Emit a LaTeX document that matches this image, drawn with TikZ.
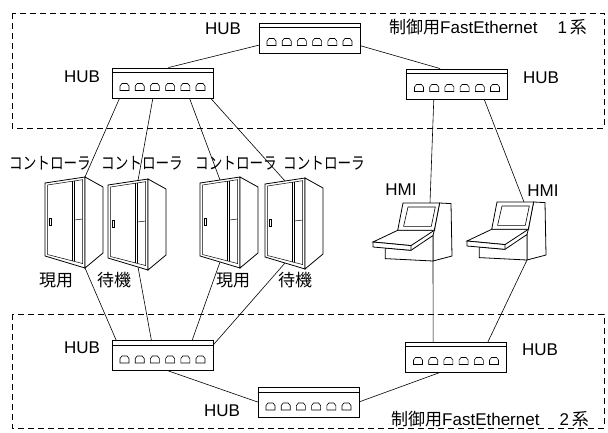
\documentclass[tikz,border=0pt]{standalone}
\usepackage{fontspec}
\setmainfont{Liberation Sans}
\newfontfamily\jp{Noto Sans CJK JP}
\newfontfamily\jpnarrow[FakeStretch=0.8]{Noto Sans CJK JP}
\usetikzlibrary{calc}

\pgfdeclarelayer{bg}
\pgfsetlayers{bg,main}

\tikzset{
  hub/.style={draw, fill=white, line width=0.9pt, minimum width=101pt, minimum height=30pt, inner sep=0pt},
  port/.style={line width=0.6pt, fill=white},
  cable/.style={line width=0.6pt},
  segment/.style={line width=0.8pt, dash pattern=on 6pt off 4pt},
  lbl/.style={inner sep=0pt, font=\fontsize{17}{20}\selectfont},
  % control cabinet, origin = top left corner of the front
  pics/cabinet/.style={code={
    \draw[line width=0.8pt, fill=white] (0,0) -- (40,-6) -- (40,85) -- (0,73) -- cycle;
    \draw[line width=0.8pt, fill=white] (40,-6) -- (58,4) -- (58,70) -- (40,85) -- cycle;
    \draw[line width=0.5pt] (2.5,2) -- (37.5,-3.3) -- (37.5,80.5) -- (2.5,71.5) -- cycle;
    \draw[line width=0.5pt] (27,-1.7) -- (27,77.8) (29.5,-2.1) -- (29.5,78.4);
    \draw[line width=0.5pt] (29.5,37) -- (37.5,36);
    \draw[line width=0.5pt] (4.5,35) rectangle (6.5,42);
    \coordinate (-tr) at (40,-6);
    \coordinate (-tc) at (20,-3);
    \coordinate (-ts) at (30,-4.5);
    \coordinate (-br) at (40,85);
    \coordinate (-bc) at (20,79);
    \coordinate (-bs) at (30,82);
  }},
  % operator console, origin = top left corner of the screen panel
  pics/hmi/.style={code={
    \draw[line width=0.8pt, fill=white] (36.6,0) -- (48,0.6) -- (49,53) -- (30,58) -- (30,32.5) -- (31.3,27.3) -- cycle;
    \draw[line width=0.8pt, fill=white] (-17.7,45) -- (-17.7,55.6) -- (30,58) -- (30,32.5) -- (8,47.3) -- cycle;
    \draw[line width=0.8pt, fill=white] (-5.3,27.3) -- (31.3,27.3) -- (8,42.6) -- (-30,39) -- cycle;
    \draw[line width=0.8pt, fill=white] (-30,39) -- (8,42.6) -- (8,47.3) -- (-30,44) -- cycle;
    \draw[line width=0.8pt, fill=white] (0,0) -- (36.6,0) -- (31.3,27.3) -- (-5.3,27.3) -- cycle;
    \draw[line width=0.6pt] (5,4) -- (32.3,4) -- (28.3,23.3) -- (0.6,23.3) -- cycle;
    \coordinate (-top) at (27,0);
    \coordinate (-bot) at (30,58);
  }},
}

% hub with six ports: name, x, y
\newcommand\hubbox[3]{%
  \node[hub] (#1) at (#2,#3) {};
  \draw[line width=0.6pt] ([yshift=-5pt]#1.north west) -- ([yshift=-5pt]#1.north east);
  \foreach \k in {1,...,6}{
    \coordinate (#1-p\k) at ($(#1.center)+({15.2*(\k-3.5)},4)$);
    \draw[port] ($(#1-p\k)+(-4.5,3.5)$) -- ++(0,-4.5) -- ++(2,-2.5) -- ++(5,0) -- ++(2,2.5) -- ++(0,4.5) -- cycle;
  }%
}

\begin{document}
\begin{tikzpicture}[x=1pt, y=-1pt]
  \useasboundingbox (0,0) rectangle (608,432);

  % network segments
  \draw[segment] (12,13) rectangle (604,128);
  \draw[segment] (12,314) rectangle (604,428);
  \node[lbl] (net1) at (488,27) {{\jp 制御用}FastEthernet\hspace{20pt}1\,{\jp 系}};
  \node[lbl] (net2) at (490,419) {{\jp 制御用}FastEthernet\hspace{20pt}2\,{\jp 系}};

  % hubs
  \hubbox{hubT}{309.5}{38}
  \hubbox{hubTL}{162.5}{83}
  \hubbox{hubTR}{457}{84}
  \hubbox{hubBL}{162.5}{355.5}
  \hubbox{hubB}{308.5}{402.5}
  \hubbox{hubBR}{456}{357}
  \node[lbl] (hubT-lbl) at (223,29) {HUB};
  \node[lbl] (hubTL-lbl) at (82,77) {HUB};
  \node[lbl] (hubTR-lbl) at (541,78) {HUB};
  \node[lbl] (hubBL-lbl) at (82,348) {HUB};
  \node[lbl] (hubB-lbl) at (222,411) {HUB};
  \node[lbl] (hubBR-lbl) at (540,350) {HUB};

  % controllers
  \pic (ctl1) at (45,183) {cabinet};
  \pic (ctl2) at (108,185) {cabinet};
  \pic (ctl3) at (200,183) {cabinet};
  \pic (ctl4) at (265,184) {cabinet};
  \node[lbl] (ctl1-lbl) at (50,163) {\jpnarrow コントローラ};
  \node[lbl] (ctl2-lbl) at (142,163) {\jpnarrow コントローラ};
  \node[lbl] (ctl3-lbl) at (236,163) {\jpnarrow コントローラ};
  \node[lbl] (ctl4-lbl) at (324,163) {\jpnarrow コントローラ};
  \node[lbl] (ctl1-mode) at (56,280) {\jp 現用};
  \node[lbl] (ctl2-mode) at (114,280) {\jp 待機};
  \node[lbl] (ctl3-mode) at (233,280) {\jp 現用};
  \node[lbl] (ctl4-mode) at (295,280) {\jp 待機};

  % operator stations
  \pic (hmi1) at (403,203) {hmi};
  \pic (hmi2) at (497,202) {hmi};
  \node[lbl] (hmi1-lbl) at (401,190) {HMI};
  \node[lbl] (hmi2-lbl) at (543,191) {HMI};

  \begin{pgfonlayer}{bg}
    % system 1
    \draw[cable] (hubT-p1) -- ([xshift=6pt]hubTL.north);
    \draw[cable] (hubT-p6) -- ([xshift=-17pt]hubTR.north);
    \draw[cable] (hubTL-p1) -- (ctl1-tr);
    \draw[cable] (hubTL-p3) -- (ctl2-ts);
    \draw[cable] (hubTL-p5) -- (ctl3-tc);
    \draw[cable] (hubTL-p6) -- (ctl4-tc);
    \draw[cable] (hubTR-p2) -- (hmi1-top);
    \draw[cable] (hubTR-p5) -- (hmi2-top);
    % system 2
    \draw[cable] (ctl1-br) -- (hubBL-p1);
    \draw[cable] (ctl2-bs) -- (hubBL-p3);
    \draw[cable] (ctl3-bc) -- (hubBL-p5);
    \draw[cable] (ctl4-bc) -- (hubBL-p6);
    \draw[cable] (hmi1-bot) -- (hubBR-p2);
    \draw[cable] (hmi2-bot) -- (hubBR-p5);
    \draw[cable] ([xshift=6pt]hubBL.south) -- (hubB-p1);
    \draw[cable] (hubB-p6) -- ([xshift=-16pt]hubBR.south);
  \end{pgfonlayer}
\end{tikzpicture}
\end{document}
